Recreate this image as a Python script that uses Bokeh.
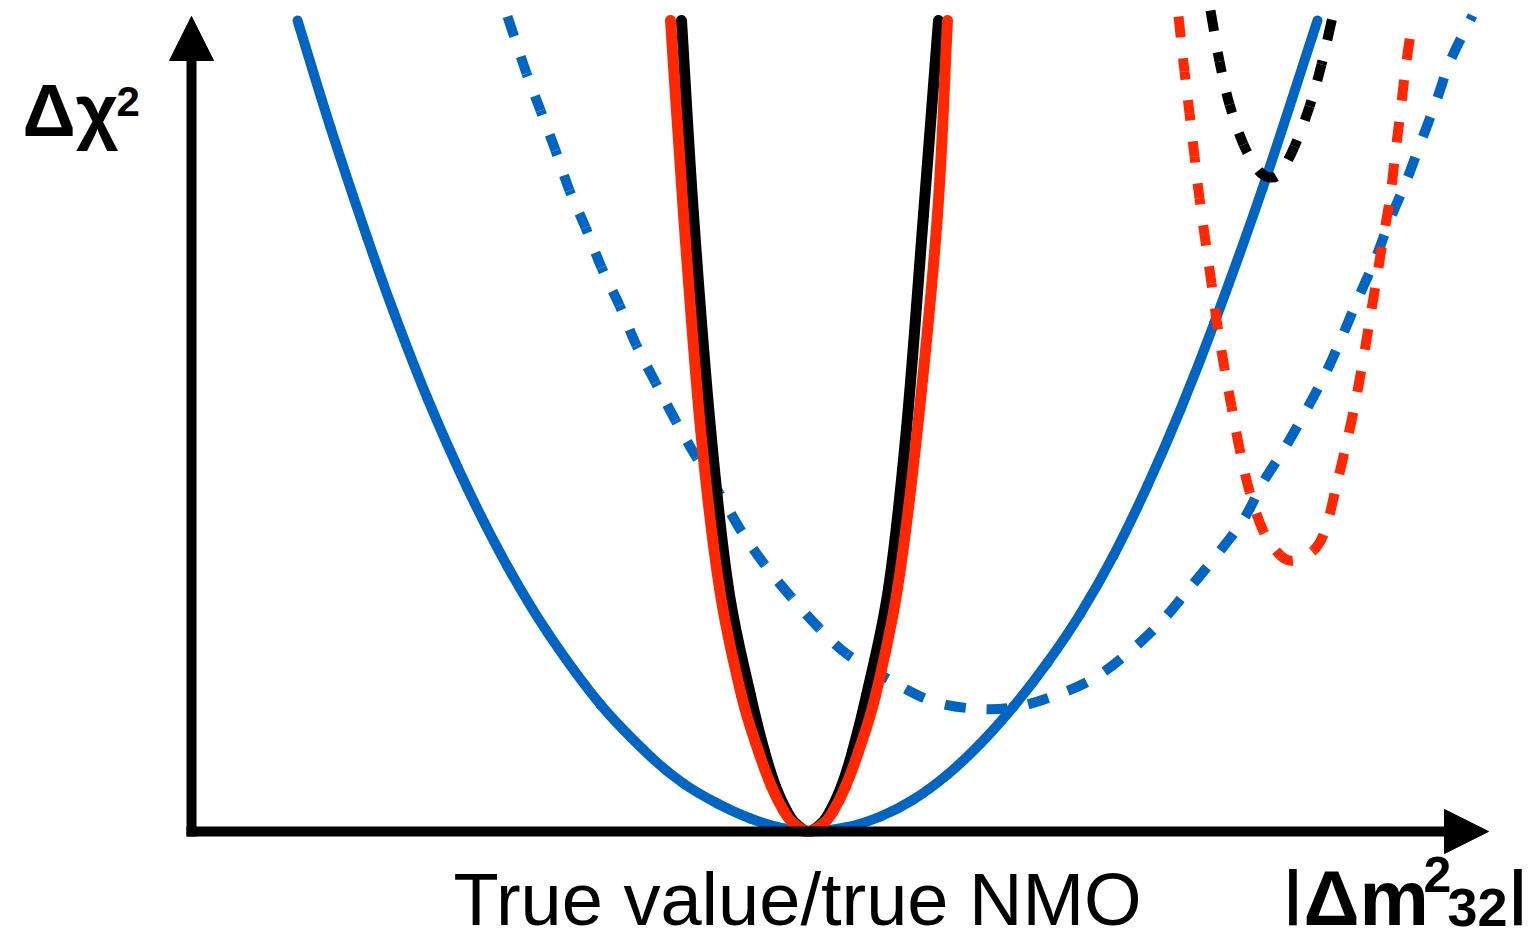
import numpy as np
from bokeh.plotting import figure
from bokeh.models import Range1d, Arrow, NormalHead, ColumnDataSource
from bokeh.core.properties import value
from bokeh.embed import file_html
from bokeh.resources import INLINE

# Horizontal position (arbitrary units) and Δχ² (arbitrary units)
blue_solid_x = [297, 330, 367, 393, 427, 467, 507, 547, 600, 650, 683, 717, 750, 783, 808,
                845, 880, 913, 947, 980, 1013, 1047, 1080, 1113, 1147, 1180, 1214, 1262, 1317]
blue_solid_y = [811, 704, 593, 520, 433, 343, 265, 199, 127, 75, 48, 28, 13, 3, 0,
                4, 15, 32, 57, 88, 125, 169, 218, 276, 346, 422, 509, 643, 811]

black_solid_x = [681, 693, 710, 728, 750, 764, 775, 786, 795, 808,
                 821, 830, 841, 852, 866, 888, 906, 923, 938]
black_solid_y = [811, 617, 403, 243, 136, 80, 45, 21, 8, 0,
                 8, 21, 45, 80, 136, 243, 403, 617, 811]

red_solid_x = [670, 683, 700, 719, 741, 758, 771, 783, 793, 808,
               823, 833, 845, 858, 875, 897, 917, 937, 947]
red_solid_y = [811, 617, 403, 243, 136, 80, 45, 21, 8, 0,
               8, 21, 45, 80, 136, 243, 403, 617, 811]

blue_dash_x = [507, 526, 540, 555, 569, 585, 601, 619, 636, 655, 675, 696, 719, 741, 764, 791,
               819, 847, 890, 930, 972, 1013, 1055, 1093, 1128, 1160, 1188, 1215, 1243, 1263,
               1284, 1305, 1325, 1342, 1358, 1375, 1390, 1406, 1421, 1436, 1450, 1472]
blue_dash_y = [815, 758, 721, 681, 641, 604, 564, 526, 486, 449, 411, 374, 338, 300, 267, 234,
               203, 177, 151, 131, 123, 124, 136, 153, 179, 209, 242, 275, 312, 350,
               383, 420, 458, 496, 534, 573, 613, 651, 691, 731, 771, 816]

red_dash_x = [1178, 1184, 1189, 1194, 1199, 1205, 1211, 1217, 1224, 1231, 1239, 1249, 1263, 1280,
              1294, 1313, 1325, 1335, 1345, 1354, 1362, 1369, 1376, 1383, 1390, 1395, 1400, 1405, 1412]
red_dash_y = [815, 760, 718, 675, 633, 590, 548, 505, 463, 425, 383, 340, 300, 276,
              271, 281, 302, 342, 384, 425, 468, 510, 552, 595, 637, 680, 720, 763, 812]

black_dash_x = [1210, 1219, 1229, 1243, 1258, 1270, 1280, 1294, 1309, 1321, 1333]
black_dash_y = [821, 770, 727, 687, 661, 654, 659, 685, 725, 767, 819]

y_label = ["Δχ", "2"]
x_label = "True value/true NMO"
param_label = ["|", "Δm", "2", "32", "|"]

BLUE = "#0064C2"
RED = "#FF2800"
FONT = "Liberation Sans"
DASH = 42  # period of "21 21"

p = figure(width=1528, height=943, output_backend="svg", toolbar_location=None,
           x_range=Range1d(0, 1528), y_range=Range1d(-112, 831),
           min_border=0, outline_line_color=None,
           x_axis_location=None, y_axis_location=None)
p.xgrid.visible = False
p.ygrid.visible = False
p.background_fill_color = "white"
p.border_fill_color = "white"

# axes with arrow heads
p.add_layout(Arrow(end=NormalHead(size=44, fill_color="black", line_color="black", line_width=1),
                   x_start=186, y_start=0, x_end=1488, y_end=0,
                   line_width=10, line_color="black"))
p.add_layout(Arrow(end=NormalHead(size=44, fill_color="black", line_color="black", line_width=1),
                   x_start=191, y_start=-5, x_end=191, y_end=815,
                   line_width=10, line_color="black"))


def smooth(xs, ys, color, width, dashed=False):
    """Draw the read points as a smooth Catmull-Rom curve made of Bezier segments."""
    x = np.asarray(xs, float)
    y = np.asarray(ys, float)
    xe = np.concatenate([[2 * x[0] - x[1]], x, [2 * x[-1] - x[-2]]])
    ye = np.concatenate([[2 * y[0] - y[1]], y, [2 * y[-1] - y[-2]]])
    n = len(x) - 1
    d = dict(x0=[], y0=[], x1=[], y1=[], cx0=[], cy0=[], cx1=[], cy1=[], off=[])
    acc = 0.0
    t = np.linspace(0, 1, 40)
    for i in range(n):
        p0 = (xe[i], ye[i]); p1 = (xe[i + 1], ye[i + 1])
        p2 = (xe[i + 2], ye[i + 2]); p3 = (xe[i + 3], ye[i + 3])
        c0 = (p1[0] + (p2[0] - p0[0]) / 6, p1[1] + (p2[1] - p0[1]) / 6)
        c1 = (p2[0] - (p3[0] - p1[0]) / 6, p2[1] - (p3[1] - p1[1]) / 6)
        d["x0"].append(p1[0]); d["y0"].append(p1[1])
        d["x1"].append(p2[0]); d["y1"].append(p2[1])
        d["cx0"].append(c0[0]); d["cy0"].append(c0[1])
        d["cx1"].append(c1[0]); d["cy1"].append(c1[1])
        d["off"].append(int(round(acc)) % DASH)
        bx = ((1 - t) ** 3) * p1[0] + 3 * ((1 - t) ** 2) * t * c0[0] + 3 * (1 - t) * t * t * c1[0] + t ** 3 * p2[0]
        by = ((1 - t) ** 3) * p1[1] + 3 * ((1 - t) ** 2) * t * c0[1] + 3 * (1 - t) * t * t * c1[1] + t ** 3 * p2[1]
        acc += float(np.sum(np.hypot(np.diff(bx), np.diff(by))))
    src = ColumnDataSource(d)
    if dashed:
        p.bezier(x0="x0", y0="y0", x1="x1", y1="y1", cx0="cx0", cy0="cy0", cx1="cx1", cy1="cy1",
                 source=src, line_color=color, line_width=width, line_dash="21 21",
                 line_dash_offset="off", line_cap="butt")
    else:
        p.bezier(x0="x0", y0="y0", x1="x1", y1="y1", cx0="cx0", cy0="cy0", cx1="cx1", cy1="cy1",
                 source=src, line_color=color, line_width=width, line_cap="round")


smooth(blue_solid_x, blue_solid_y, BLUE, 10)
smooth(blue_dash_x, blue_dash_y, BLUE, 10, dashed=True)
smooth(black_solid_x, black_solid_y, "black", 11)
smooth(red_solid_x, red_solid_y, RED, 11)
smooth(black_dash_x, black_dash_y, "black", 10, dashed=True)
smooth(red_dash_x, red_dash_y, RED, 10, dashed=True)


def lab(x, y, t, size, style="bold"):
    p.text(x=[x], y=[y], text=[t], text_font=value(FONT), text_font_size=size,
           text_font_style=style, text_color="black",
           text_baseline="alphabetic", text_align="left")


lab(22, 721, y_label[0], "74px")
lab(116, 730, y_label[1], "42px")
lab(453, -68, x_label, "74px", "normal")
lab(1284, -60, param_label[0], "60px")
lab(1303, -66, param_label[1], "78px")
lab(1423, -43, param_label[2], "50px")
lab(1447, -76, param_label[3], "54px")
lab(1509, -60, param_label[4], "60px")

open("out.html", "w").write(file_html(p, INLINE))
